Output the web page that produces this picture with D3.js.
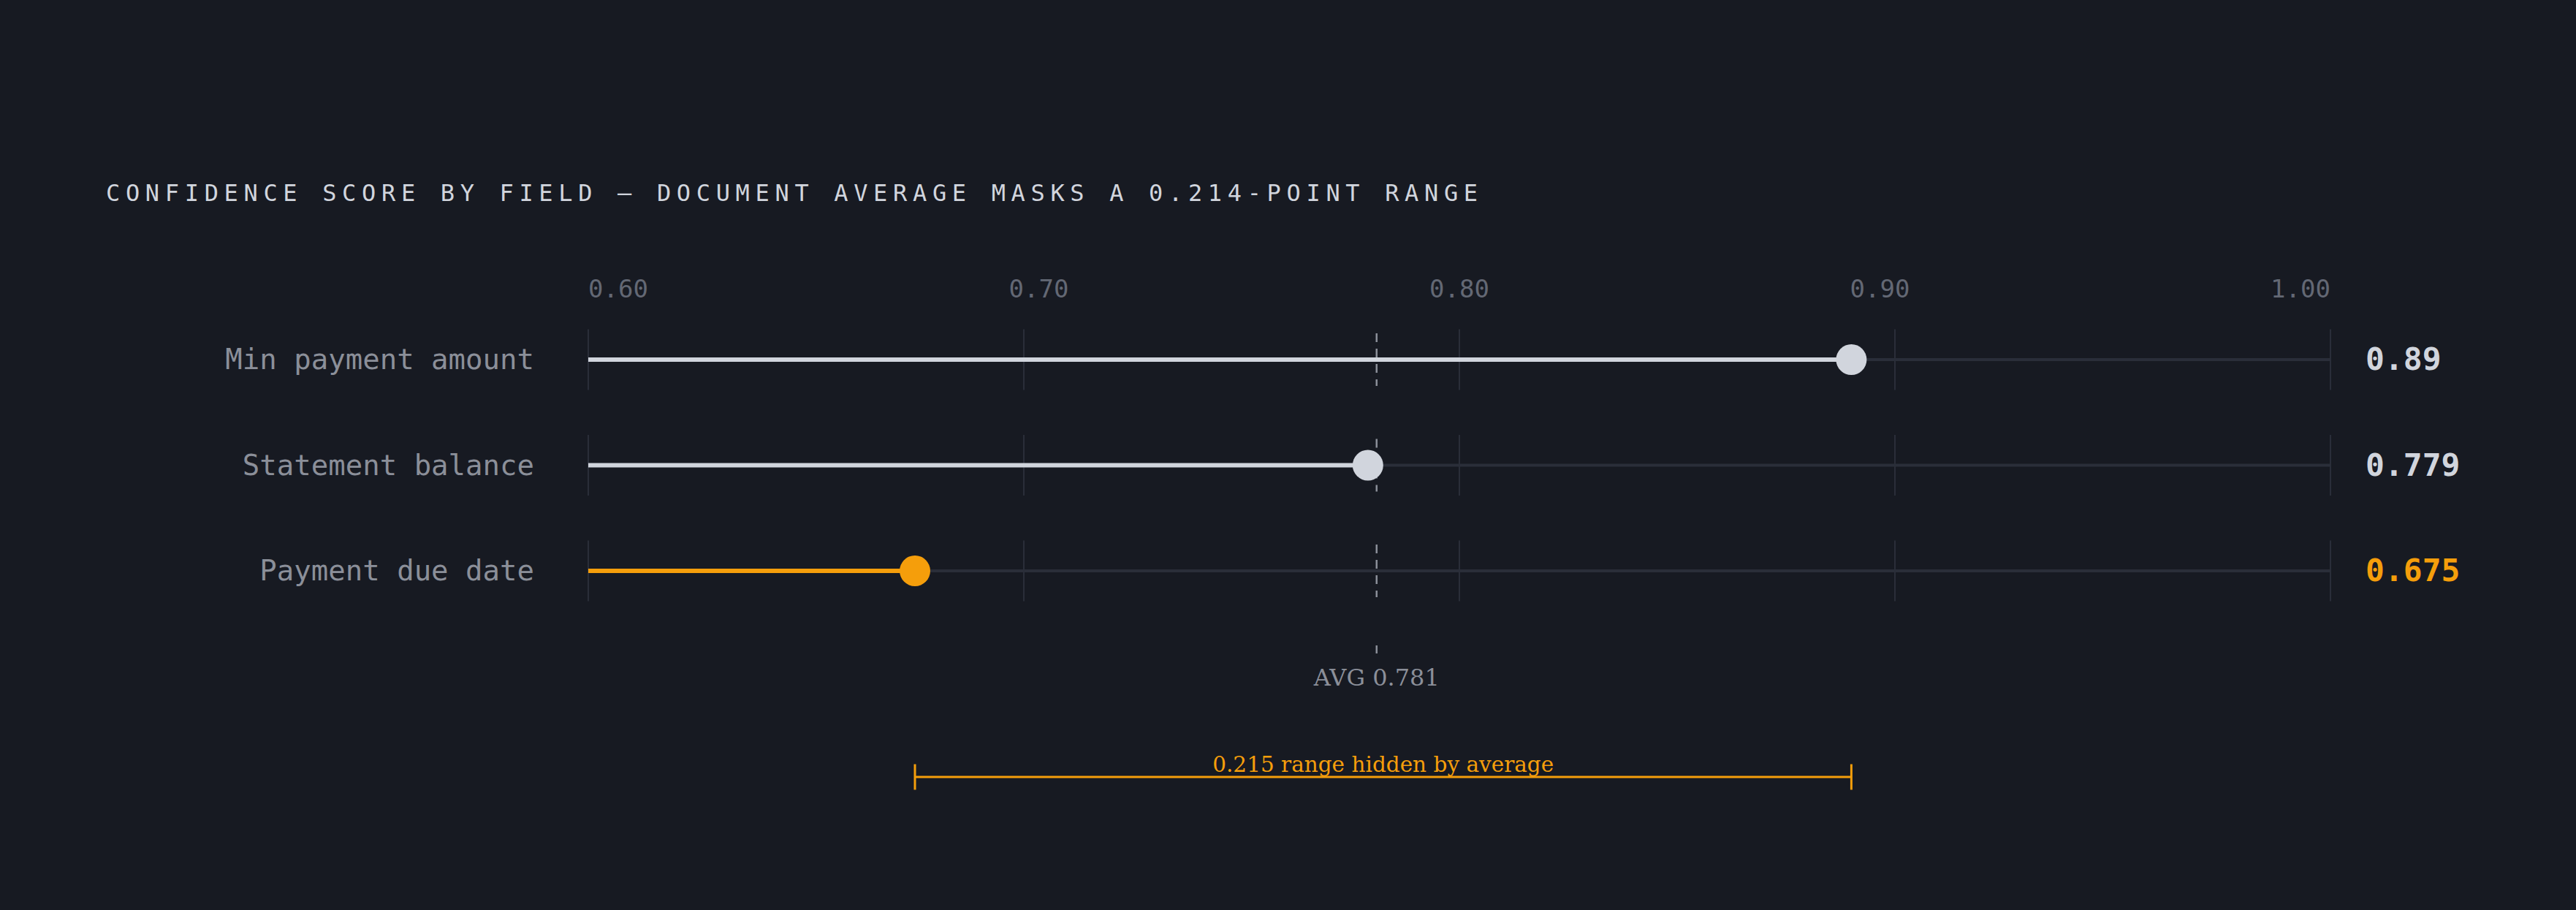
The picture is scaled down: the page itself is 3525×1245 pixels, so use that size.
<!DOCTYPE html>
<html>
<head>
<meta charset="utf-8">
<script src="https://cdn.jsdelivr.net/npm/d3@7"></script>
<style>
  html, body { margin: 0; padding: 0; background: #171a22; }
  svg { display: block; }
</style>
</head>
<body>
<svg id="chart" width="3525" height="1245"></svg>
<script>
// ---- data ----
const titleText = "CONFIDENCE SCORE BY FIELD — DOCUMENT AVERAGE MASKS A 0.214-POINT RANGE";
const fields = ["Min payment amount", "Statement balance", "Payment due date"];
const scores = [0.89, 0.779, 0.675];
const valueLabels = ["0.89", "0.779", "0.675"];
const tickValues = [0.6, 0.7, 0.8, 0.9, 1.0];
const tickLabels = ["0.60", "0.70", "0.80", "0.90", "1.00"];
const avgScore = 0.781;
const avgLabel = "AVG 0.781";
const rangeLabel = "0.215 range hidden by average";

// ---- styles ----
const MONO = "'DejaVu Sans Mono', 'Liberation Mono', monospace";
const SERIF = "'DejaVu Serif', 'Liberation Serif', serif";
const C_BG = "#171a22", C_LIGHT = "#d1d5dd", C_MUTED = "#8b8f99", C_TICK = "#636874",
      C_GRID = "#2a2e39", C_ORANGE = "#f59e0b";

const svg = d3.select("#chart");
svg.append("rect").attr("width", 3525).attr("height", 1245).attr("fill", C_BG);

const x = d3.scaleLinear().domain([0.6, 1.0]).range([805, 3189]);
const y = d3.scalePoint().domain(fields).range([492, 781]);
const halfRow = 41.5;

const minScore = d3.min(scores), maxScore = d3.max(scores);
const colorOf = v => v === minScore ? C_ORANGE : C_LIGHT;

// title
svg.append("text")
  .attr("x", 145).attr("y", 275)
  .attr("font-family", MONO).attr("font-size", 32)
  .attr("letter-spacing", 7.66)
  .attr("fill", C_LIGHT)
  .text(titleText);

// tick labels (distributed across the axis width)
const tickG = svg.append("g");
const probe = tickG.append("text").attr("font-family", MONO).attr("font-size", 34).text(tickLabels[0]);
const tw = probe.node().getComputedTextLength();
probe.remove();
const xLab = d3.scalePoint().domain(tickLabels).range([x.range()[0], x.range()[1] - tw]);
tickG.selectAll("text").data(tickLabels).join("text")
  .attr("x", d => xLab(d)).attr("y", 407)
  .attr("font-family", MONO).attr("font-size", 34)
  .attr("fill", C_TICK)
  .text(d => d);

// rows
const rows = svg.append("g").selectAll("g").data(fields).join("g")
  .attr("transform", d => `translate(0,${y(d)})`);

rows.each(function(f, i) {
  const g = d3.select(this);
  const v = scores[i];
  // grid
  g.selectAll("line.grid").data(tickValues).join("line")
    .attr("class", "grid")
    .attr("x1", d => x(d)).attr("x2", d => x(d))
    .attr("y1", -halfRow).attr("y2", halfRow)
    .attr("stroke", C_GRID).attr("stroke-width", 2);
  // track
  g.append("line")
    .attr("x1", x(0.6)).attr("x2", x(1.0)).attr("y1", 0).attr("y2", 0)
    .attr("stroke", C_GRID).attr("stroke-width", 4);
  // fill
  g.append("line")
    .attr("x1", x(0.6)).attr("x2", x(v)).attr("y1", 0).attr("y2", 0)
    .attr("stroke", colorOf(v)).attr("stroke-width", 6);
  // avg dashed segment
  g.append("line")
    .attr("x1", x(avgScore)).attr("x2", x(avgScore))
    .attr("y1", -36).attr("y2", 36)
    .attr("stroke", C_MUTED).attr("stroke-width", 2.5)
    .attr("stroke-dasharray", "12 9");
  // dot
  g.append("circle")
    .attr("cx", x(v)).attr("cy", 0).attr("r", 21)
    .attr("fill", colorOf(v));
  // label
  g.append("text")
    .attr("x", 731).attr("y", 13)
    .attr("text-anchor", "end")
    .attr("font-family", MONO).attr("font-size", 39)
    .attr("fill", C_MUTED)
    .text(f);
  // value
  g.append("text")
    .attr("x", 3237).attr("y", 14)
    .attr("font-family", MONO).attr("font-size", 43).attr("font-weight", "bold")
    .attr("fill", colorOf(v))
    .text(valueLabels[i]);
});

// avg tick + label
svg.append("line")
  .attr("x1", x(avgScore)).attr("x2", x(avgScore))
  .attr("y1", 883).attr("y2", 894)
  .attr("stroke", C_MUTED).attr("stroke-width", 2.5);
svg.append("text")
  .attr("x", x(avgScore)).attr("y", 938)
  .attr("text-anchor", "middle")
  .attr("font-family", SERIF).attr("font-size", 32)
  .attr("fill", C_MUTED)
  .text(avgLabel);

// range bracket
const by = 1063;
const br = svg.append("g").attr("stroke", C_ORANGE).attr("stroke-width", 3);
br.append("line").attr("x1", x(minScore)).attr("x2", x(maxScore)).attr("y1", by).attr("y2", by);
br.append("line").attr("x1", x(minScore)).attr("x2", x(minScore)).attr("y1", by - 17.5).attr("y2", by + 17.5);
br.append("line").attr("x1", x(maxScore)).attr("x2", x(maxScore)).attr("y1", by - 17.5).attr("y2", by + 17.5);
svg.append("text")
  .attr("x", (x(minScore) + x(maxScore)) / 2).attr("y", 1056)
  .attr("text-anchor", "middle")
  .attr("font-family", SERIF).attr("font-size", 29.5)
  .attr("fill", C_ORANGE)
  .text(rangeLabel);
</script>
</body>
</html>
